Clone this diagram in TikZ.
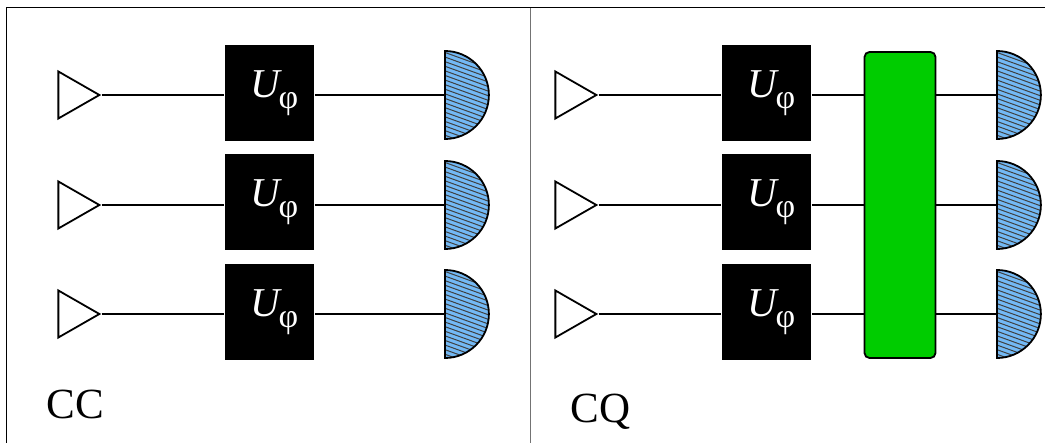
\documentclass[tikz,border=0pt]{standalone}
\usepackage{fontspec}
\setmainfont{Liberation Serif}
\usetikzlibrary{shapes.geometric,positioning}
\definecolor{hatchblue}{RGB}{115,185,245}
\definecolor{gategreen}{RGB}{0,204,0}
\newcommand{\uphi}{\hspace*{10pt}\fontsize{41}{41}\selectfont\textit{U}\hspace{-4pt}\raisebox{-11pt}{\fontsize{34}{34}\selectfont φ}}
\begin{document}
\begin{tikzpicture}[x=1pt,y=-1pt,node distance=109.5pt,line width=1.8pt]
  \tikzstyle{source}=[isosceles triangle,isosceles triangle stretches,draw=black,fill=white,inner sep=0pt,minimum width=47pt,minimum height=41pt]
  \tikzstyle{phase}=[rectangle,fill=black,text=white,inner sep=0pt,minimum width=89pt,minimum height=96pt]
  \tikzstyle{detector}=[semicircle,shape border rotate=270,draw=black,fill=hatchblue,inner sep=0pt,minimum height=44pt,
    path picture={\foreach \k in {-10,...,40} {
      \draw[line width=1pt,black!75] ([yshift=-\k*4.6pt+60pt]path picture bounding box.west) ++(-10pt,0pt) -- ++(80pt,-29pt);}}]
  \tikzstyle{gate}=[rectangle,rounded corners=5pt,draw=black,fill=gategreen,minimum width=71pt,minimum height=306pt,inner sep=0pt]
  \tikzstyle{caption}=[anchor=base west,inner sep=0pt,font=\fontsize{43}{43}\selectfont]

  \useasboundingbox (0,0) rectangle (1045,443);

  % Frame.
  \coordinate (tl) at (6,8);
  \coordinate (tr) at (1045,8);
  \coordinate (bl) at (6,443);
  \coordinate (tm) at (530.5,8);
  \coordinate (bm) at (530.5,443);
  \draw [line width=1pt] (bl) -- (tl) -- (tr);
  \draw [line width=1pt,black!55] (tm) -- (bm);

  % Left panel.
  \node [source] (s11) at (72,95) {};
  \node [source] (s12) [below of=s11,node distance=110pt] {};
  \node [source] (s13) [below of=s12,node distance=109pt] {};
  \node [phase] (u11) at (269.5,93) {\uphi};
  \node [phase] (u12) [below of=u11] {\uphi};
  \node [phase] (u13) [below of=u12] {\uphi};
  \node [detector,anchor=chord center] (d11) at (444,95) {};
  \node [detector,below=110pt of d11.chord center,anchor=chord center] (d12) {};
  \node [detector,below=109pt of d12.chord center,anchor=chord center] (d13) {};
  \node [caption] (cc) at (46,419) {CC};

  % Right panel.
  \node [source] (s21) at (569,95) {};
  \node [source] (s22) [below of=s21,node distance=110pt] {};
  \node [source] (s23) [below of=s22,node distance=109pt] {};
  \node [phase] (u21) at (766.5,93) {\uphi};
  \node [phase] (u22) [below of=u21] {\uphi};
  \node [phase] (u23) [below of=u22] {\uphi};
  \node [gate] (g) at (900,205) {};
  \node [detector,anchor=chord center] (d21) at (996,95) {};
  \node [detector,below=110pt of d21.chord center,anchor=chord center] (d22) {};
  \node [detector,below=109pt of d22.chord center,anchor=chord center] (d23) {};
  \node [caption] (cq) at (570,423) {CQ};

  \foreach \i in {1,2,3} {
    \draw (s1\i.apex) -- (s1\i.apex -| u1\i.west);
    \draw (s1\i.apex -| u1\i.east) -- (d1\i.chord center);
    \draw (s2\i.apex) -- (s2\i.apex -| u2\i.west);
    \draw (s2\i.apex -| u2\i.east) -- (s2\i.apex -| g.west);
    \draw (s2\i.apex -| g.east) -- (d2\i.chord center);
  }
\end{tikzpicture}
\end{document}
